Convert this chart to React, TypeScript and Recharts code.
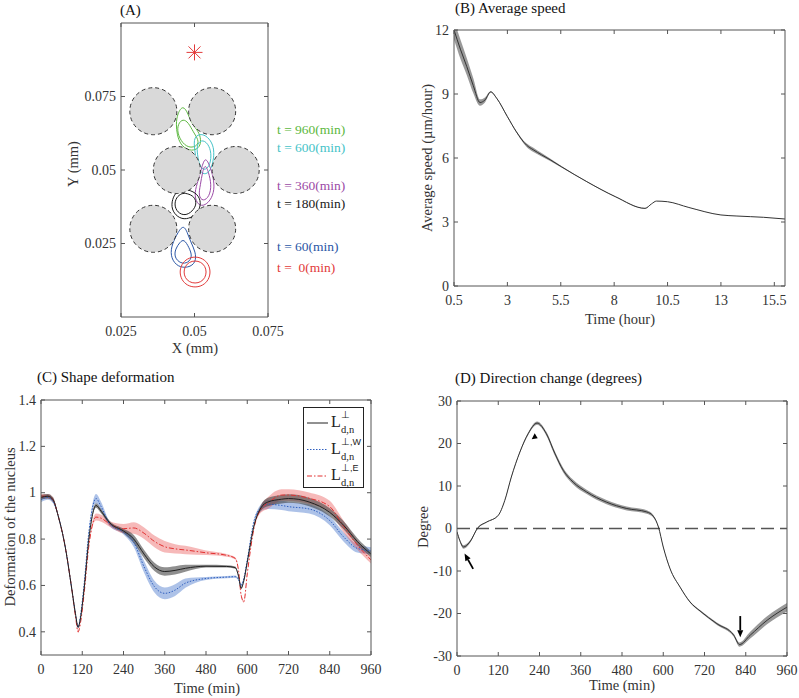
import React from 'react';
import {
  ComposedChart,
  Line,
  Area,
  Scatter,
  XAxis,
  YAxis,
  ReferenceLine,
  ReferenceDot,
} from 'recharts';

// ---------- (A) trajectory snapshots, mm ----------
const obstacleX = [0.036, 0.056, 0.044, 0.064, 0.036, 0.056];
const obstacleY = [0.07, 0.07, 0.05, 0.05, 0.03, 0.03];
const obstacleRadius = 0.008;
const targetPoint = { x: 0.05, y: 0.09 };

type Pt = [number, number];
const green960Outer: Pt[] = [[0.0461, 0.0722], [0.0479, 0.0690], [0.0489, 0.0660], [0.0510, 0.0636], [0.0521, 0.0612], [0.0521, 0.0583], [0.0503, 0.0567], [0.0477, 0.0567], [0.0452, 0.0587], [0.0441, 0.0619], [0.0437, 0.0656], [0.0442, 0.0692]];
const green960Inner: Pt[] = [[0.0461, 0.0674], [0.0479, 0.0662], [0.0496, 0.0629], [0.0514, 0.0602], [0.0511, 0.0583], [0.0485, 0.0574], [0.0459, 0.0590], [0.0441, 0.0626], [0.0444, 0.0658]];
const cyan600Outer: Pt[] = [[0.0497, 0.0614], [0.0526, 0.0625], [0.0551, 0.0607], [0.0566, 0.0578], [0.0566, 0.0541], [0.0558, 0.0505], [0.0539, 0.0482], [0.0517, 0.0494], [0.0507, 0.0527], [0.0500, 0.0570]];
const cyan600Inner: Pt[] = [[0.0507, 0.0590], [0.0529, 0.0605], [0.0551, 0.0583], [0.0558, 0.0548], [0.0551, 0.0512], [0.0532, 0.0497], [0.0517, 0.0515], [0.0510, 0.0551]];
const purple360Outer: Pt[] = [[0.0536, 0.0545], [0.0551, 0.0518], [0.0565, 0.0473], [0.0568, 0.0432], [0.0555, 0.0396], [0.0529, 0.0375], [0.0507, 0.0386], [0.0499, 0.0422], [0.0513, 0.0466], [0.0524, 0.0507]];
const purple360Inner: Pt[] = [[0.0536, 0.0521], [0.0548, 0.0493], [0.0558, 0.0449], [0.0551, 0.0410], [0.0529, 0.0392], [0.0513, 0.0412], [0.0520, 0.0449], [0.0527, 0.0493]];
const black180Outer: Pt[] = [[0.0471, 0.0435], [0.0504, 0.0424], [0.0522, 0.0398], [0.0518, 0.0365], [0.0497, 0.0341], [0.0464, 0.0330], [0.0435, 0.0345], [0.0420, 0.0374], [0.0427, 0.0410], [0.0445, 0.0432]];
const black180Inner: Pt[] = [[0.0474, 0.0421], [0.0500, 0.0410], [0.0508, 0.0384], [0.0493, 0.0359], [0.0468, 0.0344], [0.0442, 0.0355], [0.0431, 0.0381], [0.0438, 0.0407], [0.0456, 0.0421]];
const blue60Outer: Pt[] = [[0.0461, 0.0315], [0.0475, 0.0290], [0.0487, 0.0255], [0.0504, 0.0221], [0.0505, 0.0185], [0.0479, 0.0167], [0.0443, 0.0170], [0.0420, 0.0200], [0.0420, 0.0238], [0.0438, 0.0278]];
const blue60Inner: Pt[] = [[0.0464, 0.0266], [0.0482, 0.0236], [0.0493, 0.0206], [0.0479, 0.0184], [0.0453, 0.0181], [0.0431, 0.0203], [0.0435, 0.0232], [0.0450, 0.0254]];
const red0Outer: Pt[] = [[0.0555, 0.0153], [0.0548, 0.0180], [0.0529, 0.0199], [0.0502, 0.0206], [0.0475, 0.0199], [0.0456, 0.0180], [0.0449, 0.0153], [0.0456, 0.0126], [0.0475, 0.0107], [0.0502, 0.0100], [0.0529, 0.0107], [0.0548, 0.0126]];
const red0Inner: Pt[] = [[0.0541, 0.0153], [0.0536, 0.0173], [0.0522, 0.0187], [0.0502, 0.0192], [0.0482, 0.0187], [0.0468, 0.0173], [0.0463, 0.0153], [0.0468, 0.0133], [0.0482, 0.0119], [0.0502, 0.0114], [0.0522, 0.0119], [0.0536, 0.0133]];

const snapshotLabels = ['t = 960(min)', 't = 600(min)', 't = 360(min)', 't = 180(min)', 't = 60(min)', 't =  0(min)'];

// ---------- (B) average speed ----------
const speedHours = [0.5, 0.8, 1.1, 1.4, 1.72, 1.95, 2.22, 2.5, 3.0, 3.42, 3.89, 4.22, 4.6, 5.0, 5.53, 6.72, 8.05, 9.45, 9.75, 9.98, 10.5, 11.5, 13.0, 13.75, 15.0, 16.0];
const speedValues = [12, 11.1, 10.28, 9.4, 8.6, 8.72, 9.1, 8.8, 7.94, 7.23, 6.61, 6.38, 6.15, 5.92, 5.59, 4.89, 4.19, 3.64, 3.85, 3.98, 3.95, 3.68, 3.33, 3.28, 3.22, 3.14];
const speedBand = [0.45, 0.45, 0.4, 0.35, 0.15, 0.12, 0.03, 0.02, 0.03, 0.04, 0.08, 0.1, 0.08, 0.06, 0.04, 0.02, 0.02, 0.02, 0, 0, 0, 0, 0, 0, 0, 0];

// ---------- (C) shape deformation ----------
const deformTimes = [0, 20, 35, 50, 70, 90, 100, 108, 115, 125, 140, 160, 175, 200, 240, 270, 300, 330, 360, 390, 420, 480, 540, 565, 575, 582, 590, 600, 620, 640, 660, 700, 720, 780, 840, 880, 920, 960];
const deformMain = [0.98, 0.985, 0.97, 0.9, 0.77, 0.58, 0.48, 0.42, 0.46, 0.58, 0.81, 0.945, 0.92, 0.87, 0.835, 0.8, 0.735, 0.68, 0.66, 0.665, 0.674, 0.683, 0.682, 0.677, 0.638, 0.588, 0.62, 0.7, 0.86, 0.935, 0.96, 0.972, 0.975, 0.96, 0.915, 0.86, 0.79, 0.735];
const deformW = [0.97, 0.98, 0.965, 0.9, 0.77, 0.58, 0.48, 0.42, 0.47, 0.6, 0.84, 0.975, 0.94, 0.865, 0.83, 0.785, 0.68, 0.595, 0.566, 0.58, 0.61, 0.63, 0.636, 0.638, 0.625, 0.6, 0.63, 0.71, 0.88, 0.935, 0.95, 0.945, 0.94, 0.93, 0.88, 0.81, 0.76, 0.75];
const deformE = [0.985, 0.985, 0.97, 0.9, 0.77, 0.58, 0.47, 0.4, 0.44, 0.56, 0.78, 0.895, 0.89, 0.865, 0.845, 0.848, 0.825, 0.79, 0.767, 0.758, 0.753, 0.741, 0.73, 0.717, 0.66, 0.56, 0.53, 0.65, 0.85, 0.93, 0.955, 0.99, 0.99, 0.976, 0.94, 0.855, 0.775, 0.71];
const deformMainBand = [0.01, 0.01, 0.01, 0.005, 0.005, 0.005, 0.005, 0.005, 0.005, 0.005, 0.005, 0.01, 0.01, 0.008, 0.01, 0.018, 0.018, 0.018, 0.018, 0.018, 0.015, 0.006, 0.005, 0.005, 0.005, 0.005, 0.005, 0.005, 0.005, 0.012, 0.018, 0.018, 0.018, 0.018, 0.018, 0.018, 0.015, 0.012];
const deformWBand = [0.01, 0.01, 0.01, 0.005, 0.005, 0.005, 0.005, 0.005, 0.005, 0.005, 0.01, 0.02, 0.02, 0.01, 0.01, 0.02, 0.025, 0.025, 0.025, 0.025, 0.02, 0.006, 0.005, 0.005, 0.005, 0.005, 0.005, 0.005, 0.005, 0.015, 0.02, 0.02, 0.02, 0.02, 0.02, 0.02, 0.018, 0.015];
const deformEBand = [0.01, 0.01, 0.01, 0.005, 0.005, 0.005, 0.005, 0.005, 0.005, 0.005, 0.008, 0.015, 0.015, 0.012, 0.02, 0.025, 0.025, 0.025, 0.025, 0.02, 0.018, 0.01, 0.006, 0.005, 0.005, 0.005, 0.005, 0.005, 0.005, 0.015, 0.025, 0.025, 0.025, 0.025, 0.025, 0.025, 0.02, 0.015];

// ---------- (D) direction change ----------
const dirTimes = [0, 8, 19, 37, 61, 86, 120, 139, 158, 183, 207, 233, 260, 285, 309, 338, 377, 435, 494, 552, 571, 586, 600, 620, 649, 678, 707, 756, 805, 822, 853, 902, 960];
const dirDegrees = [-0.8, -2.8, -4.35, -3.2, 0.2, 1.5, 3.1, 6.6, 12.1, 18, 22.3, 24.8, 22.3, 17.6, 13.7, 10.9, 8.6, 6.2, 4.7, 3.9, 2.9, 0.35, -4.35, -9.5, -13.8, -17.3, -19.4, -22.4, -25.1, -27.3, -25.1, -21.6, -18.5];
const dirBand = [0.2, 0.3, 0.4, 0.3, 0.15, 0.1, 0.1, 0.1, 0.15, 0.2, 0.3, 0.4, 0.45, 0.5, 0.55, 0.55, 0.5, 0.5, 0.45, 0.4, 0.3, 0.15, 0.1, 0.1, 0.1, 0.15, 0.2, 0.3, 0.35, 0.5, 0.8, 0.95, 1.0];

const FONT = '"Liberation Serif", "Times New Roman", serif';
const AXIS = '#555';
const TXT = '#333';
const TICK_LEN = 4;
const X_MARGIN = 19;
const Y_MARGIN = 5;

const toRows = (pts: Pt[]) => pts.map(([x, y]) => ({ x, y }));
const bandRows = (xs: number[], ys: number[], half: number[]) =>
  xs.map((x, i) => ({ x, y: ys[i], band: [ys[i] - half[i], ys[i] + half[i]] }));

const bottomTick = (p: any) => (
  <g>
    <line x1={p.x} y1={p.y - X_MARGIN} x2={p.x} y2={p.y - X_MARGIN - TICK_LEN} stroke={AXIS} />
    <text x={p.x} y={p.y} textAnchor="middle" fill={TXT} fontSize={14} fontFamily={FONT}>
      {String(p.payload.value)}
    </text>
  </g>
);
const topTick = (p: any) => (
  <line x1={p.x} y1={p.y + 2} x2={p.x} y2={p.y + 2 + TICK_LEN} stroke={AXIS} />
);
const leftTick = (p: any) => (
  <g>
    <line x1={p.x + Y_MARGIN} y1={p.y} x2={p.x + Y_MARGIN + TICK_LEN} y2={p.y} stroke={AXIS} />
    <text x={p.x} y={p.y} dy="0.34em" textAnchor="end" fill={TXT} fontSize={14} fontFamily={FONT}>
      {String(p.payload.value)}
    </text>
  </g>
);
const rightTick = (p: any) => (
  <line x1={p.x - 2} y1={p.y} x2={p.x - 2 - TICK_LEN} y2={p.y} stroke={AXIS} />
);

interface PanelProps {
  box: [number, number, number, number];
  xDomain: [number, number];
  yDomain: [number, number];
  xTicks: number[];
  yTicks: number[];
  children: React.ReactNode;
}

function Panel({ box, xDomain, yDomain, xTicks, yTicks, children }: PanelProps) {
  const [left, top, w, h] = box;
  const padL = 50, padR = 30, padT = 10, padB = 30;
  return (
    <div style={{ position: 'absolute', left: left - padL, top: top - padT }}>
      <ComposedChart width={w + padL + padR} height={h + padT + padB} margin={{ top: 0, right: 0, bottom: 0, left: 0 }}>
        <XAxis dataKey="x" type="number" domain={xDomain} ticks={xTicks} interval={0} height={padB}
          tickSize={0} tickMargin={X_MARGIN} tick={bottomTick} stroke={AXIS} allowDataOverflow />
        <XAxis xAxisId="top" orientation="top" dataKey="x" type="number" domain={xDomain} ticks={xTicks} interval={0}
          height={padT} tickSize={0} tickMargin={2} tick={topTick} stroke={AXIS} allowDataOverflow />
        <YAxis dataKey="y" type="number" domain={yDomain} ticks={yTicks} interval={0} width={padL}
          tickSize={0} tickMargin={Y_MARGIN} tick={leftTick} stroke={AXIS} allowDataOverflow />
        <YAxis yAxisId="right" orientation="right" type="number" domain={yDomain} ticks={yTicks} interval={0}
          width={padR} tickSize={0} tickMargin={2} tick={rightTick} stroke={AXIS} allowDataOverflow />
        {children}
      </ComposedChart>
    </div>
  );
}

function Txt({ x, y, children, size = 14.5, color = TXT, anchor = 'middle', rotate = false }: {
  x: number; y: number; children: React.ReactNode; size?: number; color?: string; anchor?: 'start' | 'middle'; rotate?: boolean;
}) {
  const tx = anchor === 'middle' ? '-50%' : '0';
  return (
    <div style={{
      position: 'absolute', left: x, top: y, transform: `translate(${tx}, -50%)${rotate ? ' rotate(-90deg)' : ''}`,
      fontFamily: FONT, fontSize: size, color, whiteSpace: 'pre', lineHeight: 1,
    }}>
      {children}
    </div>
  );
}

// panel A geometry: 147 px for 0.05 mm
const A_BOX: [number, number, number, number] = [121, 23, 147, 294];
const A_PX_PER_MM = A_BOX[2] / 0.05;

const contours: { data: Pt[]; color: string }[] = [
  { data: green960Outer, color: '#5cb840' },
  { data: green960Inner, color: '#5cb840' },
  { data: cyan600Outer, color: '#45c3c8' },
  { data: cyan600Inner, color: '#45c3c8' },
  { data: purple360Outer, color: '#9b4aa6' },
  { data: purple360Inner, color: '#9b4aa6' },
  { data: black180Outer, color: '#1a1a1a' },
  { data: black180Inner, color: '#1a1a1a' },
  { data: blue60Outer, color: '#2b56a6' },
  { data: blue60Inner, color: '#2b56a6' },
  { data: red0Outer, color: '#e23a3a' },
  { data: red0Inner, color: '#e23a3a' },
];
const labelColors = ['#5cb840', '#45c3c8', '#9b4aa6', '#1a1a1a', '#2b56a6', '#e23a3a'];
const labelY = [130, 148, 186, 204, 247, 268];

function ArrowShape(p: any) {
  const { x1, y1, x2, y2 } = p;
  const ang = Math.atan2(y2 - y1, x2 - x1);
  const hl = 7, hw = 3;
  const bx = x2 - hl * Math.cos(ang), by = y2 - hl * Math.sin(ang);
  const nx = -Math.sin(ang) * hw, ny = Math.cos(ang) * hw;
  return (
    <g>
      <line x1={x1} y1={y1} x2={bx} y2={by} stroke="#000" strokeWidth={1.8} />
      <polygon points={`${x2},${y2} ${bx + nx},${by + ny} ${bx - nx},${by - ny}`} fill="#000" />
    </g>
  );
}

export default function App() {
  const obstacles = obstacleX.map((x, i) => ({ x, y: obstacleY[i] }));
  const rObs = obstacleRadius * A_PX_PER_MM;
  const speedRows = bandRows(speedHours, speedValues, speedBand);
  const cMain = bandRows(deformTimes, deformMain, deformMainBand);
  const cW = bandRows(deformTimes, deformW, deformWBand);
  const cE = bandRows(deformTimes, deformE, deformEBand);
  const dRows = bandRows(dirTimes, dirDegrees, dirBand);

  return (
    <div style={{ position: 'absolute', left: 0, top: 0, width: 799, height: 698, background: '#fff', fontFamily: FONT }}>
      {/* (A) */}
      <Txt x={120} y={10} anchor="start" size={15} color="#111">(A)</Txt>
      <Panel box={A_BOX} xDomain={[0.025, 0.075]} yDomain={[0, 0.1]} xTicks={[0.025, 0.05, 0.075]} yTicks={[0.025, 0.05, 0.075]}>
        <Scatter data={obstacles} dataKey="y" isAnimationActive={false}
          shape={(p: any) => (
            <circle cx={p.cx} cy={p.cy} r={rObs} fill="#d9d9d9" stroke="#333" strokeWidth={1} strokeDasharray="4 3" />
          )} />
        {contours.map((c, i) => (
          <Line key={i} data={toRows(c.data)} dataKey="y" type="basisClosed" stroke={c.color} strokeWidth={1}
            dot={false} activeDot={false} isAnimationActive={false} />
        ))}
        <Scatter data={[targetPoint]} dataKey="y" isAnimationActive={false}
          shape={(p: any) => (
            <g stroke="#e23a3a" strokeWidth={1}>
              <line x1={p.cx - 8} y1={p.cy} x2={p.cx + 8} y2={p.cy} />
              <line x1={p.cx} y1={p.cy - 8} x2={p.cx} y2={p.cy + 8} />
              <line x1={p.cx - 6} y1={p.cy - 6} x2={p.cx + 6} y2={p.cy + 6} />
              <line x1={p.cx - 6} y1={p.cy + 6} x2={p.cx + 6} y2={p.cy - 6} />
            </g>
          )} />
      </Panel>
      {snapshotLabels.map((s, i) => (
        <Txt key={s} x={277} y={labelY[i]} anchor="start" size={13.5} color={labelColors[i]}>{s}</Txt>
      ))}
      <Txt x={195} y={348}>X (mm)</Txt>
      <Txt x={73} y={164} rotate>Y (mm)</Txt>

      {/* (B) */}
      <Txt x={455} y={8} anchor="start" size={15} color="#111">(B) Average speed</Txt>
      <Panel box={[454, 30, 331, 256]} xDomain={[0.5, 16]} yDomain={[0, 12]} xTicks={[0.5, 3, 5.5, 8, 10.5, 13, 15.5]} yTicks={[0, 3, 6, 9, 12]}>
        <Area data={speedRows} dataKey="band" type="monotone" stroke="none" fill="#555" fillOpacity={0.6}
          dot={false} activeDot={false} isAnimationActive={false} />
        <Line data={speedRows} dataKey="y" type="monotone" stroke="#333" strokeWidth={1}
          dot={false} activeDot={false} isAnimationActive={false} />
      </Panel>
      <Txt x={620} y={319}>Time (hour)</Txt>
      <Txt x={427} y={158} rotate>Average speed (µm/hour)</Txt>

      {/* (C) */}
      <Txt x={37} y={377} anchor="start" size={15} color="#111">(C) Shape deformation</Txt>
      <Panel box={[41, 400, 330, 255]} xDomain={[0, 960]} yDomain={[0.3, 1.4]} xTicks={[0, 120, 240, 360, 480, 600, 720, 840, 960]} yTicks={[0.4, 0.6, 0.8, 1, 1.2, 1.4]}>
        <Area data={cW} dataKey="band" type="monotone" stroke="none" fill="#4a78cc" fillOpacity={0.45}
          dot={false} activeDot={false} isAnimationActive={false} />
        <Area data={cE} dataKey="band" type="monotone" stroke="none" fill="#e85050" fillOpacity={0.4}
          dot={false} activeDot={false} isAnimationActive={false} />
        <Area data={cMain} dataKey="band" type="monotone" stroke="none" fill="#444" fillOpacity={0.6}
          dot={false} activeDot={false} isAnimationActive={false} />
        <Line data={cW} dataKey="y" type="monotone" stroke="#2f5fbf" strokeWidth={1} strokeDasharray="1.5 1.5"
          dot={false} activeDot={false} isAnimationActive={false} />
        <Line data={cE} dataKey="y" type="monotone" stroke="#e23030" strokeWidth={1} strokeDasharray="5 2 1.5 2"
          dot={false} activeDot={false} isAnimationActive={false} />
        <Line data={cMain} dataKey="y" type="monotone" stroke="#222" strokeWidth={1}
          dot={false} activeDot={false} isAnimationActive={false} />
      </Panel>
      <svg style={{ position: 'absolute', left: 303, top: 407 }} width={62} height={81}>
        <rect x={0.5} y={0.5} width={60} height={80} fill="#fff" stroke="#222" />
        {[
          { extra: '', color: '#222', dash: undefined },
          { extra: ',W', color: '#2f5fbf', dash: '1.5 1.5' },
          { extra: ',E', color: '#e23030', dash: '5 2 1.5 2' },
        ].map((r, i) => {
          const by = 20 + i * 26.5;
          return (
            <g key={i} fill="#222">
              <line x1={4} y1={by - 4} x2={25} y2={by - 4} stroke={r.color} strokeDasharray={r.dash} />
              <text x={28} y={by} fontSize={16} fontFamily={FONT}>L</text>
              <text x={38} y={by - 9} fontSize={10} fontFamily={FONT}>
                ⊥<tspan fontFamily="Liberation Sans, Arial, sans-serif" fontSize={9}>{r.extra}</tspan>
              </text>
              <text x={38} y={by + 6} fontSize={10.5} fontFamily={FONT}>d,n</text>
            </g>
          );
        })}
      </svg>
      <Txt x={207} y={688}>Time (min)</Txt>
      <Txt x={10} y={527} rotate>Deformation of the nucleus</Txt>

      {/* (D) */}
      <Txt x={455} y={378} anchor="start" size={15} color="#111">(D) Direction change (degrees)</Txt>
      <Panel box={[457, 401, 330, 255]} xDomain={[0, 960]} yDomain={[-30, 30]} xTicks={[0, 120, 240, 360, 480, 600, 720, 840, 960]} yTicks={[-30, -20, -10, 0, 10, 20, 30]}>
        <ReferenceLine y={0} stroke="#555" strokeWidth={1.5} strokeDasharray="13 6" />
        <Area data={dRows} dataKey="band" type="monotone" stroke="none" fill="#555" fillOpacity={0.6}
          dot={false} activeDot={false} isAnimationActive={false} />
        <Line data={dRows} dataKey="y" type="monotone" stroke="#333" strokeWidth={1}
          dot={false} activeDot={false} isAnimationActive={false} />
        <ReferenceLine segment={[{ x: 47, y: -9.5 }, { x: 22, y: -5.9 }]} shape={ArrowShape} />
        <ReferenceLine segment={[{ x: 824, y: -20.6 }, { x: 824, y: -25.6 }]} shape={ArrowShape} />
        <ReferenceDot x={226} y={21.7} isFront
          shape={(p: any) => (
            <polygon points={`${p.cx - 3},${p.cy + 3} ${p.cx + 3},${p.cy + 2} ${p.cx},${p.cy - 3}`} fill="#000" />
          )} />
      </Panel>
      <Txt x={622} y={685}>Time (min)</Txt>
      <Txt x={423} y={527} rotate>Degree</Txt>
    </div>
  );
}
